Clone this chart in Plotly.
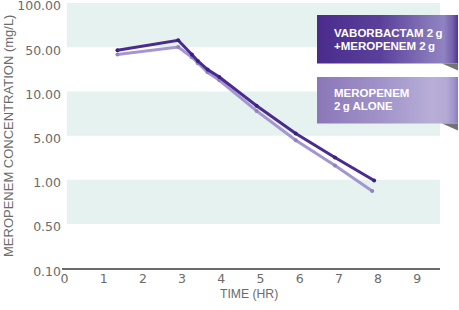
import numpy as np
import plotly.graph_objects as go

# ---------------- data ----------------
time_vm = [1.35, 2.9, 3.25, 3.4, 3.65, 3.95, 4.9, 5.9, 6.9, 7.9]
conc_vm = [44.7, 55.7, 38.4, 30.4, 22.2, 16.9, 8.0, 5.17, 2.25, 0.99]
time_m = [1.35, 2.9, 3.25, 3.4, 3.65, 3.95, 4.9, 5.9, 6.9, 7.85]
conc_m = [38.4, 50.2, 34.7, 27.9, 20.1, 15.0, 7.37, 4.23, 1.68, 0.84]
y_tick_values = [0.10, 0.50, 1.00, 5.00, 10.00, 50.00, 100.00]
y_tick_labels = ["0.10", "0.50", "1.00", "5.00", "10.00", "50.00", "100.00"]
x_tick_values = list(range(10))
label_vm = ["VABORBACTAM 2\u2009g", "+MEROPENEM 2\u2009g"]
label_m = ["MEROPENEM", "2\u2009g ALONE"]
x_title = "TIME (HR)"
y_title = "MEROPENEM CONCENTRATION (mg/L)"

# ---------------- helpers ----------------
W, H = 459, 310
idx = np.arange(len(y_tick_values))


def to_pos(v):
    """Concentration -> position on the evenly spaced (piecewise log) axis."""
    return np.interp(np.log10(v), np.log10(y_tick_values), idx)


DARK = "#4b2c8e"
LIGHT = "#a496d0"
GRAY = "#6b6b6b"
BAND = "#e6f2f0"

fig = go.Figure()

# light series first (drawn beneath)
fig.add_trace(go.Scatter(
    x=time_m, y=to_pos(conc_m), mode="lines+markers",
    line=dict(color=LIGHT, width=3), marker=dict(color="#9282c4", size=4),
    name=" ".join(label_m), showlegend=False, hoverinfo="skip"))
fig.add_trace(go.Scatter(
    x=time_vm, y=to_pos(conc_vm), mode="lines+markers",
    line=dict(color=DARK, width=3), marker=dict(color="#3c2280", size=4),
    name=" ".join(label_vm), showlegend=False, hoverinfo="skip"))

# background bands
shapes = []
for lo, hi in [(5, 6), (3, 4), (1, 2)]:
    shapes.append(dict(type="rect", xref="x", yref="y", x0=0.06, x1=9.58,
                       y0=lo, y1=hi, fillcolor=BAND, line=dict(width=0),
                       layer="below"))


# legend ribbons drawn on a pixel-coordinate overlay axis pair
def ribbon(x0, x1, y0, y1, scale):
    fig.add_trace(go.Scatter(
        x=[x0, x1, x1, x0, x0], y=[y0, y0, y1, y1, y0], mode="none",
        fill="toself", fillgradient=dict(type="horizontal", colorscale=scale),
        xaxis="x2", yaxis="y2", showlegend=False, hoverinfo="skip"))
    fig.add_trace(go.Scatter(
        x=[x1 - 16, x1, x1, x1 - 16], y=[y1, y1, y1 + 7, y1], mode="none",
        fill="toself", fillcolor="#737373",
        xaxis="x2", yaxis="y2", showlegend=False, hoverinfo="skip"))


ribbon(317, 458, 15, 63.5,
       [[0, "#4a2b8c"], [0.45, "#5a409b"], [0.8, "#8677ba"],
        [0.9, "#9083c2"], [0.96, "#7462ad"], [1, "#4f3391"]])
ribbon(317, 458, 77, 123.5,
       [[0, "#8b77b8"], [0.5, "#a396cb"], [0.82, "#b8afd8"],
        [0.92, "#b3a9d5"], [0.97, "#a193cb"], [1, "#8c7bbb"]])

annotations = []
for text, y in [(label_vm[0], 32.5), (label_vm[1], 46.3),
                (label_m[0], 92.5), (label_m[1], 105.8)]:
    annotations.append(dict(
        x=331.5, y=y, xref="x2", yref="y2", text="<b>%s</b>" % text,
        showarrow=False, xanchor="left", yanchor="middle",
        font=dict(family="Liberation Sans, Arial", size=11.5, color="white")))

# axis titles
annotations.append(dict(
    x=249, y=294, xref="x2", yref="y2", text=x_title, showarrow=False,
    xanchor="center", yanchor="middle",
    font=dict(family="Liberation Sans, Arial", size=12.2, color=GRAY)))
annotations.append(dict(
    x=8, y=136, xref="x2", yref="y2", text=y_title, showarrow=False,
    textangle=-90, xanchor="center", yanchor="middle",
    font=dict(family="Liberation Sans, Arial", size=13, color=GRAY)))

fig.update_layout(
    width=W, height=H,
    margin=dict(l=0, r=0, t=0, b=0, autoexpand=False),
    paper_bgcolor="white", plot_bgcolor="rgba(0,0,0,0)",
    shapes=shapes, annotations=annotations,
    xaxis=dict(domain=[62 / W, 440 / W], range=[-0.064, 9.58],
               tickvals=x_tick_values, ticks="", showgrid=False,
               zeroline=False, showline=True, linecolor=GRAY, linewidth=1.5,
               automargin=False, ticklabelstandoff=-2,
               tickfont=dict(family="DejaVu Sans", size=12.5, color=GRAY)),
    yaxis=dict(domain=[(H - 268.3) / H, (H - 3) / H], range=[0, 6],
               tickvals=list(idx), ticktext=y_tick_labels, ticks="",
               showgrid=False, zeroline=False, showline=False,
               automargin=False,
               ticklabeloverflow="allow", ticklabelshift=3,
               tickfont=dict(family="DejaVu Sans", size=12.5, color=GRAY)),
    xaxis2=dict(domain=[0, 1], range=[0, W], anchor="y2", visible=False,
                fixedrange=True, automargin=False),
    yaxis2=dict(domain=[0, 1], range=[H, 0], anchor="x2", visible=False,
                fixedrange=True, automargin=False),
)

fig.write_html("out.html")
